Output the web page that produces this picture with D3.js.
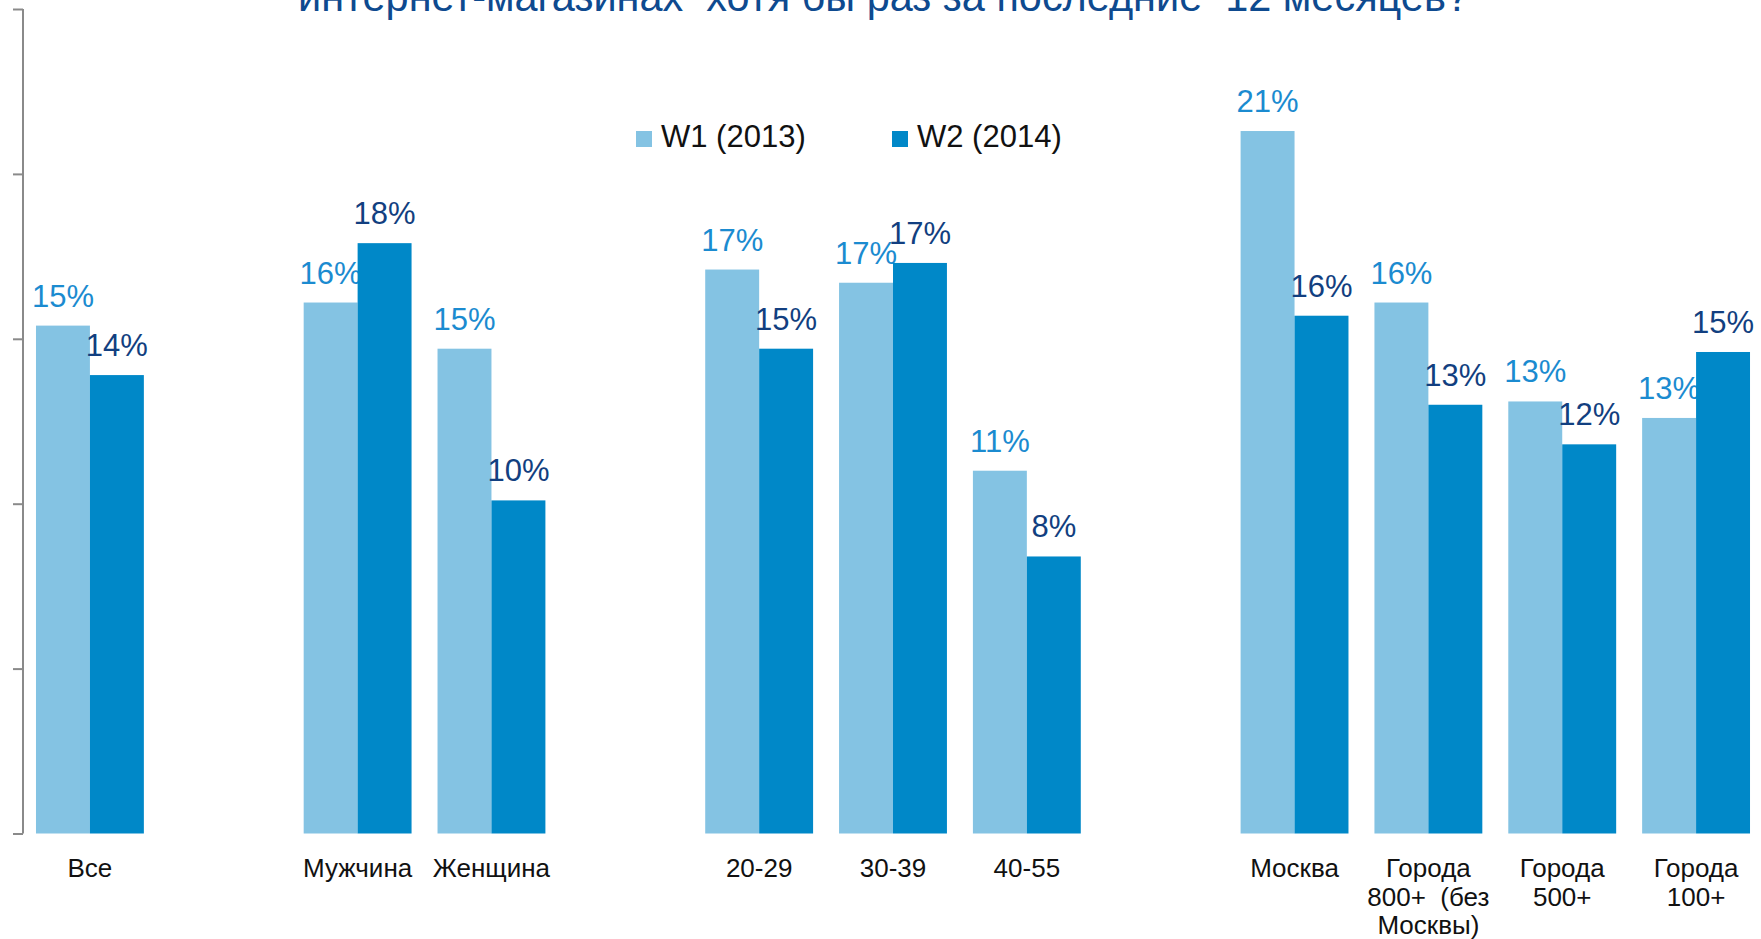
<!DOCTYPE html>
<html lang="ru">
<head>
<meta charset="utf-8">
<title>Покупки в интернет-магазинах</title>
<script src="https://cdn.jsdelivr.net/npm/d3@7"></script>
<style>
  html, body { margin: 0; padding: 0; background: #ffffff; }
  svg { display: block; font-family: "Liberation Sans", Arial, sans-serif; }
</style>
</head>
<body>
<svg id="chart" width="1761" height="939"></svg>
<script>
// Categories (a line break marks where a label wraps)
const categories = [
  "Все",
  "Мужчина", "Женщина",
  "20-29", "30-39", "40-55",
  "Москва", "Города\n800+  (без\nМосквы)", "Города\n500+", "Города\n100+"
];
// Group index of each category; groups are separated by an empty slot
const groupIndex = [0, 1, 1, 2, 2, 2, 3, 3, 3, 3];

// Share of respondents, %
const seriesNames = ["W1 (2013)", "W2 (2014)"];
const w1Values = [15.4, 16.1, 14.7, 17.1, 16.7, 11.0, 21.3, 16.1, 13.1, 12.6];
const w2Values = [13.9, 17.9, 10.1, 14.7, 17.3, 8.4, 15.7, 13.0, 11.8, 14.6];

const yTicks = [0, 5, 10, 15, 20, 25];
const titleText = "интернет-магазинах  хотя бы раз за последние  12 месяцев?";

const colors = {
  barW1: "#84c3e3",
  barW2: "#0088c8",
  labelW1: "#1b8bd0",
  labelW2: "#123f80",
  title: "#0e4a8f",
  axis: "#8a8a8a",
  text: "#111111"
};

const svg = d3.select("#chart");

// Slot domain: categories plus empty spacer slots between groups
const slots = [];
categories.forEach((c, i) => {
  if (i > 0 && groupIndex[i] !== groupIndex[i - 1]) slots.push("__gap" + i);
  slots.push(c);
});

const x = d3.scaleBand()
  .domain(slots)
  .range([23, 1763])
  .paddingInner(0.194)
  .paddingOuter(0.097);

const xSeries = d3.scaleBand()
  .domain(["W1", "W2"])
  .range([0, x.bandwidth()]);

const y = d3.scaleLinear().domain([0, 25]).range([833.5, 9]);

// Title (top of the line runs past the top edge)
svg.append("text")
  .attr("x", 298)
  .attr("y", 11)
  .attr("font-size", 42)
  .attr("textLength", 1171)
  .attr("lengthAdjust", "spacingAndGlyphs")
  .attr("xml:space", "preserve")
  .style("white-space", "pre")
  .attr("fill", colors.title)
  .text(titleText);

// Vertical axis without labels
svg.append("g")
  .attr("transform", "translate(23,0)")
  .call(d3.axisLeft(y).tickValues(yTicks).tickFormat("").tickSize(10).tickSizeOuter(0))
  .call(g => g.selectAll("path, line").attr("stroke", colors.axis).attr("stroke-width", 2))
  .call(g => g.select(".domain").attr("d", `M0,${y(25)}V${y(0)}`));

const rows = categories.map((c, i) => ({ cat: c, w1: w1Values[i], w2: w2Values[i] }));

function drawBars(key, barColor) {
  svg.append("g").selectAll("rect")
    .data(rows)
    .join("rect")
    .attr("x", d => x(d.cat) + xSeries(key.toUpperCase()))
    .attr("y", d => y(d[key]))
    .attr("width", xSeries.bandwidth())
    .attr("height", d => y(0) - y(d[key]))
    .attr("fill", barColor);
}

function drawLabels(key, labelColor) {
  svg.append("g").selectAll("text")
    .data(rows)
    .join("text")
    .attr("x", d => x(d.cat) + xSeries(key.toUpperCase()) + xSeries.bandwidth() / 2)
    .attr("y", d => y(d[key]) - 19)
    .attr("text-anchor", "middle")
    .attr("font-size", 31)
    .attr("fill", labelColor)
    .text(d => Math.round(d[key]) + "%");
}

// W1 bars and labels first, W2 bars drawn over them
drawBars("w1", colors.barW1);
drawLabels("w1", colors.labelW1);
drawBars("w2", colors.barW2);
drawLabels("w2", colors.labelW2);

// Category labels
const catLabels = svg.append("g").selectAll("text")
  .data(categories)
  .join("text")
  .attr("x", d => x(d) + x.bandwidth() / 2)
  .attr("y", 877)
  .attr("text-anchor", "middle")
  .attr("font-size", 26)
  .attr("fill", colors.text);
catLabels.each(function (d) {
  const t = d3.select(this);
  d.split("\n").forEach((line, i) => {
    t.append("tspan")
      .attr("x", x(d) + x.bandwidth() / 2)
      .attr("dy", i === 0 ? 0 : 28.5)
      .attr("xml:space", "preserve")
      .style("white-space", "pre")
      .text(line);
  });
});

// Legend
const legendX = [636, 892];
const legendColors = [colors.barW1, colors.barW2];
const legend = svg.append("g").selectAll("g")
  .data(seriesNames)
  .join("g")
  .attr("transform", (d, i) => `translate(${legendX[i]},131)`);
legend.append("rect")
  .attr("width", 16)
  .attr("height", 16)
  .attr("fill", (d, i) => legendColors[i]);
legend.append("text")
  .attr("x", 25)
  .attr("y", 16)
  .attr("font-size", 31)
  .attr("fill", colors.text)
  .text(d => d);
</script>
</body>
</html>
